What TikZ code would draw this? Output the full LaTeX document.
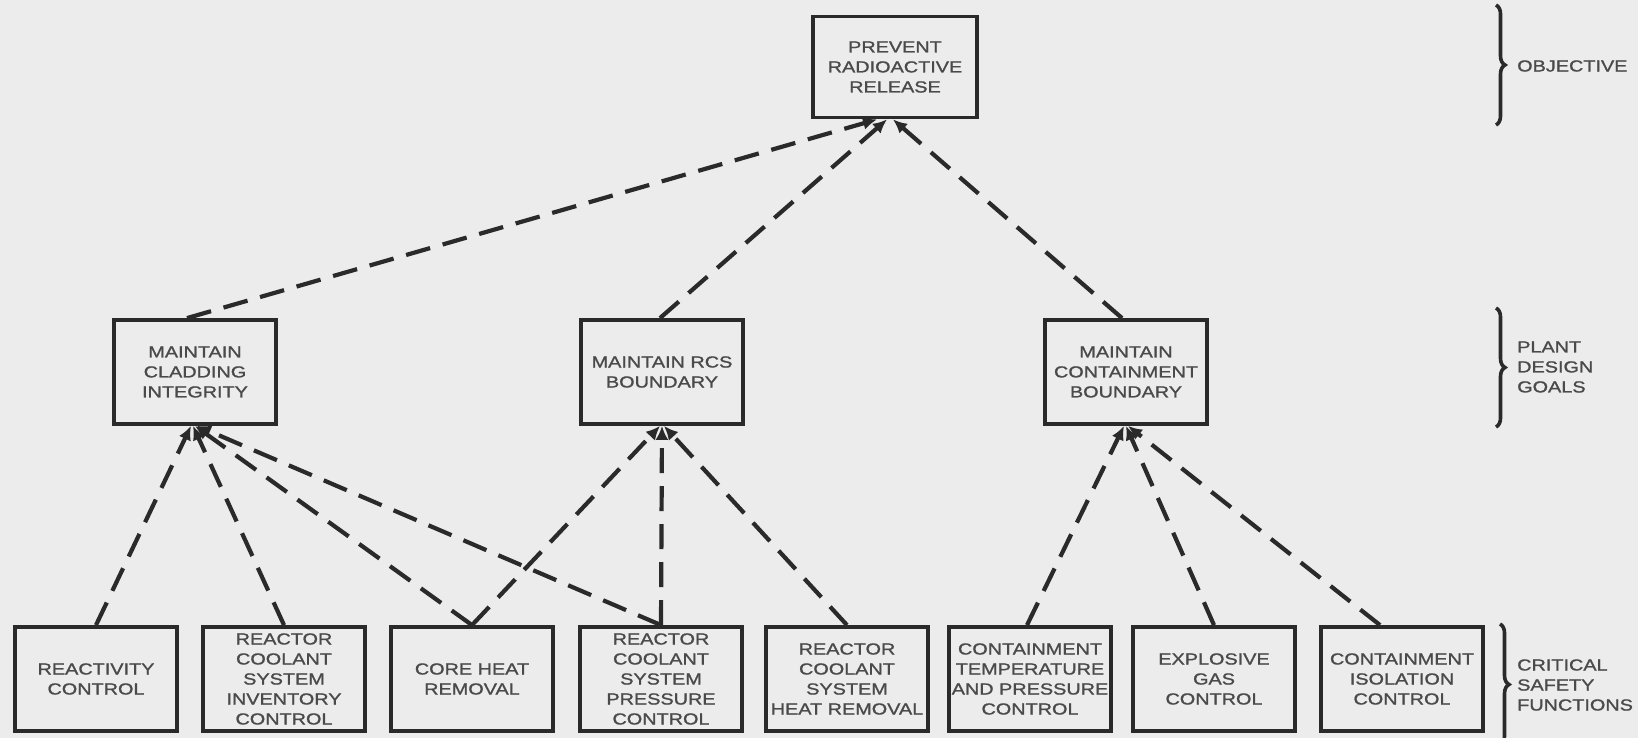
\documentclass[tikz,border=0pt]{standalone}
\usepackage{fontspec}
\setmainfont{Liberation Sans}[FakeStretch=1.24,FakeBold=1.2]
\usetikzlibrary{arrows.meta,decorations.pathreplacing,calc}
\definecolor{bgc}{HTML}{ECECEC}
\definecolor{inkc}{HTML}{2A2A2A}
\definecolor{txtc}{HTML}{4A4A4A}
\begin{document}
\begin{tikzpicture}[x=1pt,y=-1pt,
  box/.style={draw=inkc,line width=3.8pt,minimum width=162pt,minimum height=104pt,inner sep=0pt,align=center,text=txtc,font=\fontsize{16}{20}\selectfont},
  link/.style={draw=inkc,line width=4.2pt,dash pattern=on 25pt off 13pt,-{Latex[length=14pt,width=13pt]}},
  tag/.style={anchor=west,align=left,text=txtc,font=\fontsize{16}{20}\selectfont,inner sep=0pt},
  brc/.style={draw=inkc,line width=3.6pt,decorate,decoration={brace,amplitude=9pt}}]
\fill[bgc] (0,0) rectangle (1638,738);
\useasboundingbox (0,0) rectangle (1638,738);

% objective
\node[box,minimum width=164pt,minimum height=101pt] (top) at (895,67) {PREVENT\\RADIOACTIVE\\RELEASE};

% plant design goals
\node[box] (clad) at (195,372) {MAINTAIN\\CLADDING\\INTEGRITY};
\node[box] (rcs) at (662,372) {MAINTAIN RCS\\BOUNDARY};
\node[box] (cb) at (1126,372) {MAINTAIN\\CONTAINMENT\\BOUNDARY};

% critical safety functions
\node[box] (rc) at (96,679) {REACTIVITY\\CONTROL};
\node[box] (inv) at (284,679) {REACTOR\\COOLANT\\SYSTEM\\INVENTORY\\CONTROL};
\node[box] (chr) at (472,679) {CORE HEAT\\REMOVAL};
\node[box] (prs) at (661,679) {REACTOR\\COOLANT\\SYSTEM\\PRESSURE\\CONTROL};
\node[box] (hr) at (847,679) {REACTOR\\COOLANT\\SYSTEM\\HEAT REMOVAL};
\node[box] (ctp) at (1030,679) {CONTAINMENT\\TEMPERATURE\\AND PRESSURE\\CONTROL};
\node[box] (eg) at (1214,679) {EXPLOSIVE\\GAS\\CONTROL};
\node[box] (ci) at (1402,679) {CONTAINMENT\\ISOLATION\\CONTROL};

% links goals -> objective
\draw[link] ($(clad.north)+(-8,0)$) -- ($(top.south)+(-18,0)$);
\draw[link] ($(rcs.north)+(-2,0)$) -- ($(top.south)+(-8,0)$);
\draw[link] ($(cb.north)+(-4,0)$) -- ($(top.south)+(-2,0)$);

% links functions -> cladding
\draw[link] (rc.north) -- ($(clad.south)+(-4,0)$);
\draw[link] (inv.north) -- ($(clad.south)+(-2,0)$);
\draw[link] (chr.north) -- ($(clad.south)+(0,0)$);
\draw[link] (prs.north) -- ($(clad.south)+(2,0)$);

% links functions -> RCS boundary
\draw[link] (chr.north) -- ($(rcs.south)+(-2,0)$);
\draw[link] (prs.north) -- (rcs.south);
\draw[link] (hr.north) -- ($(rcs.south)+(2,0)$);

% links functions -> containment boundary
\draw[link] ($(ctp.north)+(-3,0)$) -- ($(cb.south)+(-2,0)$);
\draw[link] (eg.north) -- (cb.south);
\draw[link] ($(ci.north)+(-22,0)$) -- ($(cb.south)+(2,0)$);

% braces and level labels
\coordinate (b1t) at (1496,5);
\coordinate (b1b) at (1496,125);
\coordinate (b2t) at (1496,308);
\coordinate (b2b) at (1496,427);
\coordinate (b3t) at (1500,624);
\coordinate (b3b) at (1500,745);
\draw[brc] (b1t) -- (b1b);
\draw[brc] (b2t) -- (b2b);
\draw[brc] (b3t) -- (b3b);
\node[tag] (lobj) at (1517,66) {OBJECTIVE};
\node[tag] (lpdg) at (1517,367) {PLANT\\DESIGN\\GOALS};
\node[tag] (lcsf) at (1517,685) {CRITICAL\\SAFETY\\FUNCTIONS};
\end{tikzpicture}
\end{document}
